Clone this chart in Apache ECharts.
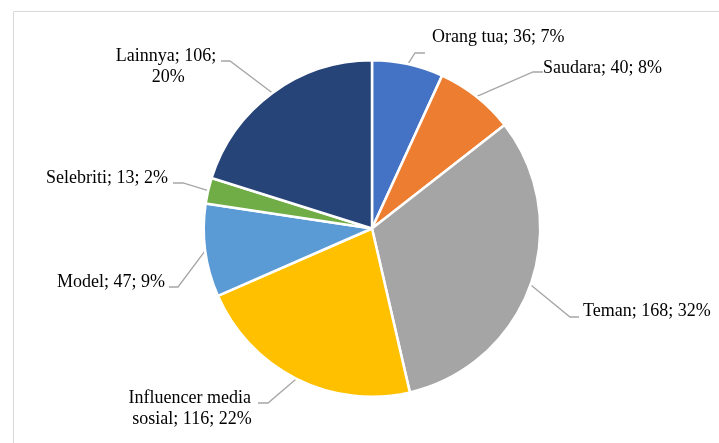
<!DOCTYPE html>
<html>
<head>
<meta charset="utf-8">
<script src="https://cdn.jsdelivr.net/npm/echarts@6/dist/echarts.min.js"></script>
<style>
  html, body { margin: 0; padding: 0; background: #ffffff; }
  #chart { width: 719px; height: 443px; }
</style>
</head>
<body>
<div id="chart"></div>
<script>
// Sources of influence, with respondent counts
const categories = ['Orang tua', 'Saudara', 'Teman', 'Influencer media sosial', 'Model', 'Selebriti', 'Lainnya'];
const counts = [36, 40, 168, 116, 47, 13, 106];

// Slice colours, in category order
const sliceColors = ['#4472C4', '#ED7D31', '#A5A5A5', '#FFC000', '#5B9BD5', '#70AD47', '#264478'];

// Where each callout sits: text anchor, leader elbow and leader end
const calloutPlacement = [
  { x: 432, y: 37, align: 'left',   elbow: [415, 53],  end: [425, 53] },
  { x: 543, y: 68, align: 'left',   elbow: [533, 72],  end: [543, 72] },
  { x: 583, y: 311, align: 'left',  elbow: [570, 317], end: [579, 317] },
  { x: 192, y: 409, align: 'center', elbow: [268, 403], end: [258, 403], width: 128 },
  { x: 165, y: 282, align: 'right', elbow: [178, 287], end: [169, 287] },
  { x: 168, y: 178, align: 'right', elbow: [183, 183], end: [173, 183] },
  { x: 166, y: 67, align: 'center', elbow: [230, 61],  end: [221, 61], width: 104 }
];

const pieData = categories.map((name, i) => {
  const item = { name: name, value: counts[i], itemStyle: { color: sliceColors[i] } };
  if (calloutPlacement[i].width) {
    item.label = { width: calloutPlacement[i].width, overflow: 'break', align: 'center' };
  }
  return item;
});

const chart = echarts.init(document.getElementById('chart'), null, { renderer: 'canvas' });

chart.setOption({
  animation: false,
  backgroundColor: '#ffffff',
  graphic: [{
    type: 'rect',
    shape: { x: 13.5, y: 11.5, width: 760, height: 500 },
    style: { fill: 'none', stroke: '#D9D9D9', lineWidth: 1 },
    silent: true,
    z: -10
  }],
  series: [{
    type: 'pie',
    center: [372, 228.5],
    radius: 168.2,
    startAngle: 90,
    clockwise: true,
    avoidLabelOverlap: false,
    percentPrecision: 0,
    data: pieData,
    itemStyle: { borderColor: '#ffffff', borderWidth: 2.5 },
    emphasis: { disabled: true },
    label: {
      show: true,
      formatter: '{b}; {c}; {d}%',
      fontFamily: '"Liberation Serif", "Times New Roman", serif',
      fontSize: 18,
      lineHeight: 21,
      color: '#000000'
    },
    labelLine: {
      show: true,
      length: 10,
      length2: 10,
      lineStyle: { color: '#A6A6A6', width: 1.3 }
    },
    labelLayout: function (params) {
      const p = calloutPlacement[params.dataIndex];
      const start = params.labelLinePoints ? params.labelLinePoints[0] : p.elbow;
      return {
        x: p.x,
        y: p.y,
        align: p.align,
        verticalAlign: 'middle',
        labelLinePoints: [start, p.elbow, p.end]
      };
    }
  }]
});
</script>
</body>
</html>
